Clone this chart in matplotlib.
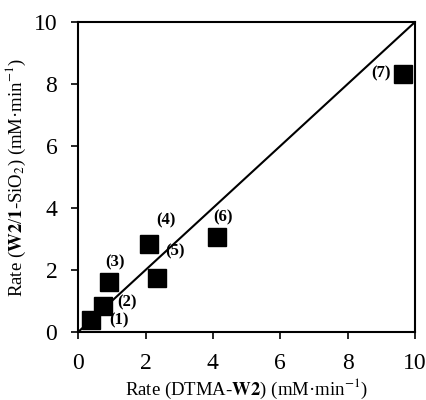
import matplotlib
matplotlib.use("Agg")
import matplotlib.pyplot as plt

plt.rcParams['font.family'] = ['Liberation Serif', 'DejaVu Serif']
plt.rcParams['mathtext.fontset'] = 'stix'

# data
labels = ['(1)', '(2)', '(3)', '(4)', '(5)', '(6)', '(7)']
rate_dtma = [0.38, 0.75, 0.93, 2.1, 2.35, 4.12, 9.65]
rate_sio2 = [0.4, 0.85, 1.62, 2.85, 1.75, 3.05, 8.33]
# label offsets in pixels (dx, dy, ha)
offsets = [(18, -1, 'left'), (14, 3, 'left'), (6, 19, 'center'), (7, 23, 'left'),
           (8, 26, 'left'), (6, 20, 'center'), (-13, 0, 'right')]
ticks = [0, 2, 4, 6, 8, 10]

fig = plt.figure(figsize=(4.27, 4.0), dpi=100)
ax = fig.add_axes([0.183, 0.17, 0.789, 0.775])

ax.plot([0, 10], [0, 10], color='black', lw=1.5, zorder=2)
ax.plot(rate_dtma, rate_sio2, 's', color='black', ms=12.5, zorder=3)

for x, y, lab, (dx, dy, ha) in zip(rate_dtma, rate_sio2, labels, offsets):
    ax.annotate(lab, (x, y), xytext=(dx, dy), textcoords='offset pixels',
                ha=ha, va='center', fontsize=12, fontweight='bold')

ax.set_xlim(0, 10)
ax.set_ylim(0, 10)
ax.set_xticks(ticks)
ax.set_yticks(ticks)
ax.tick_params(direction='out', length=5, width=1.2, labelsize=17, pad=10)
for s in ax.spines.values():
    s.set_linewidth(1.5)

ax.set_xlabel(r'Rate (DTMA-$\mathbf{W2}$) (mM·min$^{-1}$)', fontsize=13.5, labelpad=2)
ax.set_ylabel(r'Rate ($\mathbf{W2}$/$\mathbf{1}$-SiO$_2$) (mM·min$^{-1}$)', fontsize=13.5, labelpad=4)

fig.savefig('out.png', dpi=100)
